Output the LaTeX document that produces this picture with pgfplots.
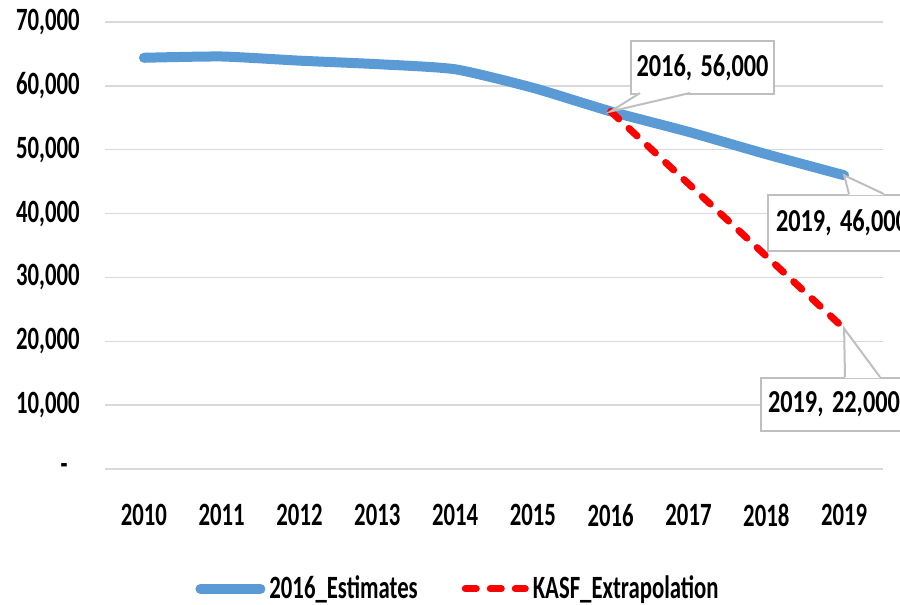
\documentclass[border=0pt]{standalone}
\usepackage{pgfplots}
\pgfplotsset{compat=1.18}
\usepackage{fontspec}
\setmainfont{Carlito}
\newfontfamily\tickfont{Carlito}[FakeStretch=0.70]
\newfontfamily\callfont{Carlito}[FakeStretch=0.76]
\definecolor{eblue}{HTML}{5B9BD5}
\definecolor{gridgray}{HTML}{D9D9D9}
\definecolor{boxgray}{HTML}{BFBFBF}
\begin{document}
\begin{tikzpicture}
\path[use as bounding box] (0,0) rectangle (450pt,-302.5pt);
\begin{axis}[
  at={(52.5pt,-234.5pt)}, anchor=south west,
  scale only axis, width=389pt, height=223.5pt,
  xmin=2009.5, xmax=2019.5, ymin=0, ymax=70000,
  scaled y ticks=false, scaled x ticks=false,
  xtick={2010,2011,...,2019},
  xticklabels={2010,2011,2012,2013,2014,2015,2016,2017,2018,2019},
  ytick={0,10000,20000,30000,40000,50000,60000,70000},
  yticklabels={{-\hspace*{6pt}},{10,000},{20,000},{30,000},{40,000},{50,000},{60,000},{70,000}},
  ymajorgrids, grid style={gridgray, line width=0.75pt},
  axis line style={draw=none}, major tick length=0pt,
  tick label style={font=\tickfont\bfseries\fontsize{16.25}{18}\selectfont, inner sep=0pt},
  yticklabel style={anchor=east, xshift=-12.5pt},
  xticklabel style={anchor=north, yshift=-17.5pt},
  clip=false,
  legend columns=2,
  legend style={at={(axis description cs:0.108,-0.268)}, anchor=west, draw=none, fill=none,
    font=\tickfont\bfseries\fontsize{16.25}{18}\selectfont,
    /tikz/every even column/.append style={column sep=20pt}},
  legend image code/.code={\draw[#1] (0pt,0pt) -- (30pt,0pt);},
]
\addplot[eblue, line width=5pt, line cap=round, smooth, tension=0.35] coordinates {
  (2010,64400) (2011,64600) (2012,63950) (2013,63400) (2014,62600)
  (2015,59700) (2016,56000) (2017,52800) (2018,49300) (2019,46000)};
\addlegendentry{2016\_Estimates}
\addplot[red, line width=3.5pt, line cap=round, dash pattern=on 5.5pt off 7pt] coordinates {
  (2016,56000) (2017,44667) (2018,33333) (2019,22000)};
\addlegendentry{KASF\_Extrapolation}
\coordinate (pA) at (axis cs:2016,56000);
\coordinate (pB) at (axis cs:2019,46000);
\coordinate (pC) at (axis cs:2019,22000);
\end{axis}
\begin{scope}[x=0.5pt,y=-0.5pt]
  \tikzset{cbox/.style={draw=boxgray, line width=1pt, fill=white, inner sep=0pt, anchor=north west,
     font=\callfont\bfseries\fontsize{16}{18}\selectfont}}
  % callout 1
  \node[cbox, minimum width=71.5pt, minimum height=26.5pt] at (630,40) {2016,\hspace{1.5pt} 56,000};
  \fill[white] (pA) -- (640,92) -- (690,92) -- cycle;
  \draw[boxgray, line width=1pt] (640,93) -- (pA) -- (690,93);
  % callout 2
  \node[cbox, minimum height=28pt] at (767,194) {\hspace*{4pt}2019,\hspace{1.5pt} 46,000\hspace*{4pt}};
  \fill[white] (pB) -- (849,195) -- (884,195) -- cycle;
  \draw[boxgray, line width=1pt] (849,194) -- (pB) -- (884,194);
  % callout 3
  \node[cbox, minimum height=26.5pt] at (760,377) {\hspace*{3.5pt}2019,\hspace{1.5pt} 22,000\hspace*{4pt}};
  \fill[white] (pC) -- (845,378) -- (880,378) -- cycle;
  \draw[boxgray, line width=1pt] (845,377) -- (pC) -- (880,377);
\end{scope}
\end{tikzpicture}
\end{document}
